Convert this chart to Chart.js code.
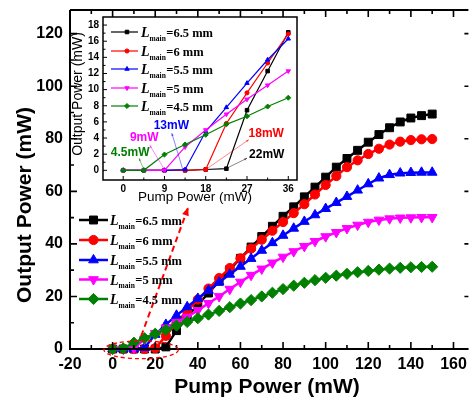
<!DOCTYPE html>
<html>
<head>
<meta charset="utf-8">
<script src="https://cdn.jsdelivr.net/npm/chart.js@4.4.0/dist/chart.umd.min.js"></script>
<style>
  html, body { margin: 0; padding: 0; background: #fff; }
  #wrap { position: relative; width: 475px; height: 399px; overflow: hidden; }
  #main { position: absolute; left: 0; top: 0; }
  #inset { position: absolute; left: 66px; top: 8px; }
</style>
</head>
<body>
<div id="wrap">
  <canvas id="main" width="475" height="399"></canvas>
  <canvas id="inset" width="238" height="206"></canvas>
</div>
<script>
// main plot: pump power (mW) vs output power (mW) for each main-cavity length
const pumpMain = [0, 5, 10, 15, 20, 25, 30, 35, 40, 45, 50, 55, 60, 65, 70, 75, 80, 85, 90, 95, 100, 105, 110, 115, 120, 125, 130, 135, 140, 145, 150];
const out65 = [0, 0, 0, 0, 0, 0.8, 7, 12.3, 16.8, 21.3, 25.8, 30.2, 34.5, 38.8, 42.8, 46.7, 50.5, 54.1, 57.9, 61.6, 65.4, 69.2, 72.5, 75.6, 78.7, 81.6, 84.2, 86.4, 87.9, 88.8, 89.4];
const out60 = [0, 0, 0, 0, 0.3, 5, 10, 14.5, 18.8, 23, 27, 30.8, 34.5, 38.2, 41.6, 45, 48.3, 51.7, 55.1, 58.8, 62.4, 65.8, 69.2, 71.8, 74.2, 76.2, 77.8, 78.9, 79.5, 79.8, 79.9];
const out55 = [0, 0, 0, 0.5, 5.5, 9.3, 12.8, 16, 19.2, 22.3, 25.4, 28.4, 31.4, 34.4, 37.5, 40.4, 43.2, 45.9, 48.5, 51, 53.4, 55.7, 58, 60.4, 62.8, 65, 66.3, 66.9, 67.1, 67.2, 67.2];
const out50 = [0, 0, 0.3, 3.8, 6, 8.1, 10.1, 12.2, 14.7, 17.4, 20, 22.8, 25.5, 28.1, 30.5, 32.8, 35, 37.1, 39.1, 41, 42.8, 44.4, 45.9, 47.2, 48.3, 49.1, 49.6, 49.9, 50, 50.1, 50.1];
const out45 = [0, 0.2, 2.4, 4.1, 5.8, 7.3, 8.9, 10.3, 11.7, 13.1, 14.5, 15.9, 17.3, 18.6, 20, 21.4, 22.8, 24.1, 25.2, 26.2, 27.1, 27.9, 28.6, 29.2, 29.7, 30.2, 30.6, 30.9, 31.1, 31.2, 31.3];

// inset: threshold region
const pumpInset = [0, 4.5, 9, 13.5, 18, 22.5, 27, 31.5, 36];
const in65 = [0, 0, 0, 0, 0.1, 0.2, 7.45, 12.3, 17.1];
const in60 = [0, 0, 0, 0, 0.1, 5.8, 9.6, 13.3, 16.9];
const in55 = [0, 0, 0, 0.1, 4.8, 7.8, 10.8, 13.7, 16.3];
const in50 = [0, 0, 0, 2.9, 5.0, 6.95, 8.8, 10.55, 12.3];
const in45 = [0, 0, 1.95, 3.2, 4.4, 5.7, 6.7, 7.9, 9.0];

const lengths = ['6.5', '6', '5.5', '5', '4.5'];
const thresholds = [4.5, 9, 13, 18, 22];
const thresholdText = ['4.5mW', '9mW', '13mW', '18mW', '22mW'];

const xTicks = [-20, 0, 20, 40, 60, 80, 100, 120, 140, 160];
const yTicks = [0, 20, 40, 60, 80, 100, 120];
const insetXTicks = [0, 9, 18, 27, 36];
const insetYTicks = [0, 2, 4, 6, 8, 10, 12, 14, 16, 18];

const colors = ['#000000', '#ff0000', '#0000ff', '#ff00ff', '#008000'];
const markers = [
  { style: 'rect', rot: 0, r: 5.6 },
  { style: 'circle', rot: 0, r: 4.6 },
  { style: 'triangle', rot: 0, r: 5.6 },
  { style: 'triangle', rot: 180, r: 5.6 },
  { style: 'rectRot', rot: 0, r: 5.6 }
];

const SANS = '"Liberation Sans", Arial, sans-serif';
const SERIF = '"Liberation Serif", "Times New Roman", serif';

function midpoints(vals) {
  const out = [];
  for (let i = 0; i < vals.length - 1; i++) out.push((vals[i] + vals[i + 1]) / 2);
  return out;
}

// keep the plot box exactly where the layout padding puts it
function fixBox(size, key) {
  return s => {
    s[key] = size;
    s.paddingTop = 0; s.paddingBottom = 0; s.paddingLeft = 0; s.paddingRight = 0;
  };
}

function ticksInward(ctx, scale, values, len, side, area) {
  ctx.beginPath();
  values.forEach(v => {
    const p = scale.getPixelForValue(v);
    if (side === 'bottom') { ctx.moveTo(p, area.bottom); ctx.lineTo(p, area.bottom - len); }
    if (side === 'top') { ctx.moveTo(p, area.top); ctx.lineTo(p, area.top + len); }
    if (side === 'left') { ctx.moveTo(area.left, p); ctx.lineTo(area.left + len, p); }
    if (side === 'right') { ctx.moveTo(area.right, p); ctx.lineTo(area.right - len, p); }
  });
  ctx.stroke();
}

function marker(ctx, i, x, y, scale) {
  ctx.fillStyle = colors[i];
  ctx.strokeStyle = colors[i];
  ctx.lineWidth = 1;
  Chart.helpers.drawPoint(ctx, {
    pointStyle: markers[i].style,
    rotation: markers[i].rot,
    radius: markers[i].r * scale,
    borderWidth: 1
  }, x, y);
}

// "L_main=6.5 mm" style label
function lengthLabel(ctx, x, y, len) {
  ctx.fillStyle = '#000';
  ctx.textAlign = 'left';
  ctx.textBaseline = 'alphabetic';
  ctx.font = 'italic bold 14px ' + SERIF;
  ctx.fillText('L', x, y + 5);
  const w1 = ctx.measureText('L').width;
  ctx.font = 'bold 7.5px ' + SERIF;
  ctx.fillText('main', x + w1, y + 8.5);
  const w2 = ctx.measureText('main').width;
  ctx.font = 'bold 12.5px ' + SERIF;
  ctx.fillText('=' + len + ' mm', x + w1 + w2 + 0.5, y + 4.5);
}

function arrowHead(ctx, x0, y0, x1, y1, size) {
  const a = Math.atan2(y1 - y0, x1 - x0);
  ctx.beginPath();
  ctx.moveTo(x1, y1);
  ctx.lineTo(x1 - size * Math.cos(a - 0.4), y1 - size * Math.sin(a - 0.4));
  ctx.lineTo(x1 - size * Math.cos(a + 0.4), y1 - size * Math.sin(a + 0.4));
  ctx.closePath();
  ctx.fill();
}

function makeSets(xs, series, lineW, markerScale) {
  return series.map((s, i) => ({
    data: xs.map((p, k) => ({ x: p, y: s[k] })),
    borderColor: colors[i],
    backgroundColor: colors[i],
    borderWidth: lineW,
    pointStyle: markers[i].style,
    pointRotation: markers[i].rot,
    pointRadius: markers[i].r * markerScale,
    pointBorderWidth: 1,
    pointBorderColor: colors[i],
    pointBackgroundColor: colors[i],
    tension: 0,
    clip: false,
    order: series.length - 1 - i
  }));
}

const mainDecor = {
  id: 'mainDecor',
  afterDatasetsDraw(chart) {
    const ctx = chart.ctx;
    const area = chart.chartArea;
    const xs = chart.scales.x, ys = chart.scales.y;
    ctx.save();

    // frame: left, bottom and top lines
    ctx.strokeStyle = '#000';
    ctx.lineWidth = 2;
    ctx.beginPath();
    ctx.moveTo(area.left, area.top);
    ctx.lineTo(area.right, area.top);
    ctx.moveTo(area.left, area.top);
    ctx.lineTo(area.left, area.bottom);
    ctx.lineTo(area.right, area.bottom);
    ctx.stroke();

    ctx.lineWidth = 1.6;
    const xMinor = midpoints(xTicks);
    ticksInward(ctx, xs, xTicks, 7, 'bottom', area);
    ticksInward(ctx, xs, xMinor, 4, 'bottom', area);
    ticksInward(ctx, xs, xTicks, 7, 'top', area);
    ticksInward(ctx, xs, xMinor, 4, 'top', area);
    ticksInward(ctx, ys, yTicks, 7, 'left', area);
    ticksInward(ctx, ys, midpoints(yTicks), 4, 'left', area);
    ticksInward(ctx, ys, yTicks, 4, 'right', area);

    // dashed ellipse round the threshold region and arrow up to the inset
    ctx.strokeStyle = '#ff0000';
    ctx.fillStyle = '#ff0000';
    const cx = xs.getPixelForValue(13.4), cy = ys.getPixelForValue(-0.3);
    const rx = xs.getPixelForValue(13.4 + 17.5) - cx;
    const ry = cy - ys.getPixelForValue(3.1);
    ctx.lineWidth = 1.3;
    ctx.setLineDash([4, 3]);
    ctx.beginPath();
    ctx.ellipse(cx, cy, rx, ry, 0, 0, Math.PI * 2);
    ctx.stroke();

    const ax0 = xs.getPixelForValue(13.4), ay0 = ys.getPixelForValue(4.9);
    const ax1 = xs.getPixelForValue(35.5), ay1 = ys.getPixelForValue(53.9);
    ctx.lineWidth = 2;
    ctx.setLineDash([6, 4]);
    ctx.beginPath();
    ctx.moveTo(ax0, ay0);
    ctx.lineTo(ax1, ay1);
    ctx.stroke();
    ctx.setLineDash([]);
    arrowHead(ctx, ax0, ay0, ax1, ay1, 9);

    // legend
    const rows = [220, 240, 260, 279.5, 299];
    rows.forEach((ry2, i) => {
      ctx.strokeStyle = colors[i];
      ctx.lineWidth = 2.5;
      ctx.beginPath();
      ctx.moveTo(79, ry2);
      ctx.lineTo(108, ry2);
      ctx.stroke();
      marker(ctx, i, 93.5, ry2, 1);
      lengthLabel(ctx, 110, ry2, lengths[i]);
    });

    // axis titles
    ctx.fillStyle = '#000';
    ctx.font = 'bold 21px ' + SANS;
    ctx.textAlign = 'center';
    ctx.textBaseline = 'middle';
    ctx.fillText('Pump Power (mW)', 267, 387);
    ctx.translate(25, 205);
    ctx.rotate(-Math.PI / 2);
    ctx.fillText('Output Power (mW)', 0, 0);
    ctx.restore();
  }
};

new Chart(document.getElementById('main'), {
  type: 'line',
  data: { datasets: makeSets(pumpMain, [out65, out60, out55, out50, out45], 2.5, 1) },
  options: {
    responsive: false,
    animation: false,
    layout: { padding: { top: 10, right: 0, left: 0, bottom: 0 } },
    plugins: { legend: { display: false }, tooltip: { enabled: false } },
    scales: {
      x: {
        type: 'linear', min: -20, max: 167,
        grid: { display: false, drawTicks: false },
        border: { display: false },
        afterBuildTicks: s => { s.ticks = xTicks.map(v => ({ value: v })); },
        afterFit: fixBox(50, 'height'),
        ticks: { padding: 6, color: '#000', autoSkip: false, maxRotation: 0,
                 font: { family: SANS, size: 16, weight: 'bold' } }
      },
      y: {
        type: 'linear', min: 0, max: 129,
        grid: { display: false, drawTicks: false },
        border: { display: false },
        afterBuildTicks: s => { s.ticks = yTicks.map(v => ({ value: v })); },
        afterFit: fixBox(70, 'width'),
        ticks: { padding: 7, color: '#000', font: { family: SANS, size: 16, weight: 'bold' } }
      }
    }
  },
  plugins: [mainDecor]
});

const insetDecor = {
  id: 'insetDecor',
  beforeDatasetsDraw(chart) {
    const ctx = chart.ctx, area = chart.chartArea;
    ctx.save();
    ctx.fillStyle = '#fff';
    ctx.fillRect(area.left, area.top, area.right - area.left, area.bottom - area.top);
    ctx.restore();
  },
  afterDatasetsDraw(chart) {
    const ctx = chart.ctx;
    const area = chart.chartArea;
    const xs = chart.scales.x, ys = chart.scales.y;
    ctx.save();
    ctx.strokeStyle = '#000';
    ctx.lineWidth = 1.5;
    ctx.strokeRect(area.left, area.top, area.right - area.left, area.bottom - area.top);
    ctx.lineWidth = 1;
    ticksInward(ctx, xs, insetXTicks, 4, 'bottom', area);
    ticksInward(ctx, xs, midpoints(insetXTicks), 2.5, 'bottom', area);
    ticksInward(ctx, ys, insetYTicks, 4, 'left', area);
    ticksInward(ctx, ys, midpoints(insetYTicks), 2.5, 'left', area);

    // threshold labels with pointer lines
    const labelPos = [[-2.7, 2.2], [4.6, 4.1], [10.5, 5.5], [31.2, 4.5], [31.3, 1.9]];
    const lineFrom = [[3.45, 1.5], [5.8, 3.1], [10.6, 4.6], [27.4, 3.8], [27.0, 1.5]];
    const order = [4, 3, 2, 1, 0];
    order.forEach((ci, k) => {
      const tx = xs.getPixelForValue(labelPos[k][0]);
      const ty = ys.getPixelForValue(labelPos[k][1]);
      const x0 = xs.getPixelForValue(thresholds[k]);
      const y0 = ys.getPixelForValue(0.1);
      const x1 = xs.getPixelForValue(lineFrom[k][0]);
      const y1 = ys.getPixelForValue(lineFrom[k][1]);
      ctx.strokeStyle = colors[ci];
      ctx.fillStyle = colors[ci];
      ctx.globalAlpha = 0.6;
      ctx.lineWidth = 0.8;
      ctx.beginPath();
      ctx.moveTo(x0, y0);
      ctx.lineTo(x1, y1);
      ctx.stroke();
      arrowHead(ctx, x0, y0, x1, y1, 3);
      ctx.globalAlpha = 1;
      ctx.font = 'bold 12px ' + SANS;
      ctx.textAlign = k === 0 ? 'left' : 'center';
      ctx.textBaseline = 'middle';
      ctx.fillText(thresholdText[k], tx, ty);
    });

    // legend
    const rows = [24, 43, 61, 80, 98];
    rows.forEach((ry, i) => {
      ctx.strokeStyle = colors[i];
      ctx.lineWidth = 1.2;
      ctx.beginPath();
      ctx.moveTo(45, ry);
      ctx.lineTo(72, ry);
      ctx.stroke();
      marker(ctx, i, 61, ry, 0.45);
      lengthLabel(ctx, 75, ry, lengths[i]);
    });

    // axis titles
    ctx.fillStyle = '#000';
    ctx.font = '13.5px ' + SANS;
    ctx.textAlign = 'center';
    ctx.textBaseline = 'middle';
    ctx.fillText('Pump Power (mW)', 129, 189);
    ctx.font = '14px ' + SANS;
    ctx.translate(12, 86);
    ctx.rotate(-Math.PI / 2);
    ctx.fillText('Output Power (mW)', 0, 0);
    ctx.restore();
  }
};

new Chart(document.getElementById('inset'), {
  type: 'line',
  data: { datasets: makeSets(pumpInset, [in65, in60, in55, in50, in45], 1.2, 0.45) },
  options: {
    responsive: false,
    animation: false,
    layout: { padding: { top: 9, right: 7, left: 0, bottom: 0 } },
    plugins: { legend: { display: false }, tooltip: { enabled: false } },
    scales: {
      x: {
        type: 'linear', min: -4.4, max: 37.9,
        grid: { display: false, drawTicks: false },
        border: { display: false },
        afterBuildTicks: s => { s.ticks = insetXTicks.map(v => ({ value: v })); },
        afterFit: fixBox(34, 'height'),
        ticks: { padding: 3, color: '#000', autoSkip: false, maxRotation: 0,
                 font: { family: SANS, size: 10, weight: 'bold' } }
      },
      y: {
        type: 'linear', min: -1.2, max: 19,
        grid: { display: false, drawTicks: false },
        border: { display: false },
        afterBuildTicks: s => { s.ticks = insetYTicks.map(v => ({ value: v })); },
        afterFit: fixBox(37, 'width'),
        ticks: { padding: 4, color: '#000', font: { family: SANS, size: 10, weight: 'bold' } }
      }
    }
  },
  plugins: [insetDecor]
});
</script>
</body>
</html>
